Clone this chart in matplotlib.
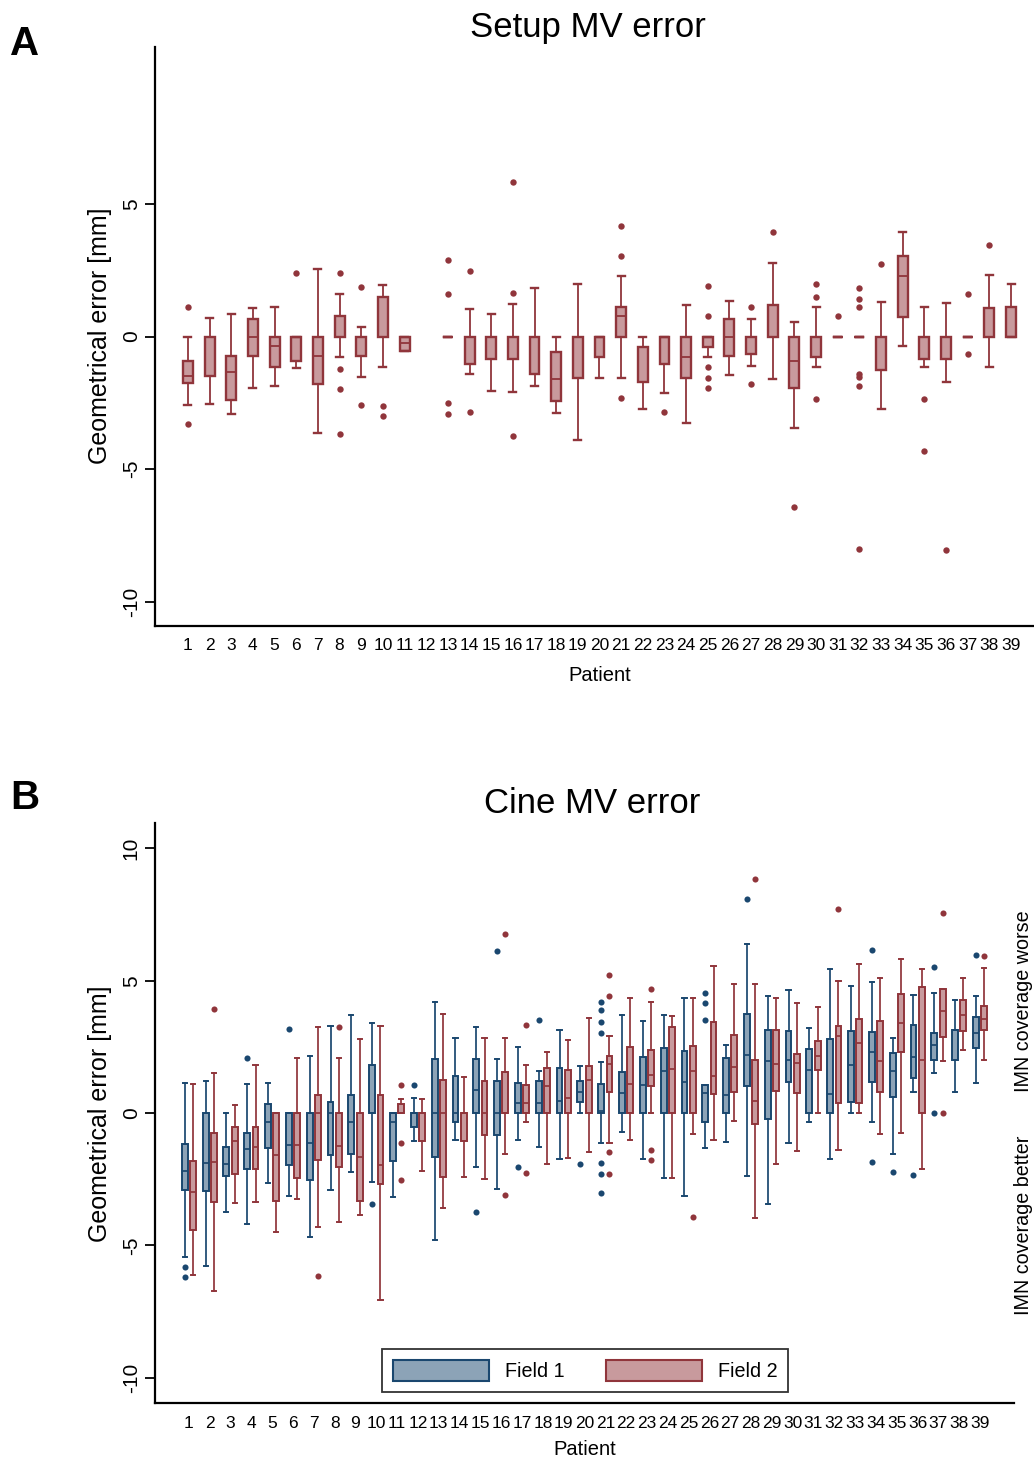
import matplotlib
matplotlib.use("Agg")
import matplotlib.pyplot as plt
from matplotlib.patches import Patch

plt.rcParams['font.family'] = ['Liberation Sans', 'DejaVu Sans']
plt.rcParams['axes.unicode_minus'] = False

W, H = 1034, 1459

# ---------------- Panel A: Setup MV error (patients 1..39, none for 12) ----------------
patients = list(range(1, 40))
a_whislo = [-2.57, -2.56, -2.91, -1.95, -1.86, -1.20, -3.64, -0.78, -1.51, -1.15,
            -0.55, None, 0.0, -1.42, -2.05, -2.08, -1.85, -2.90, -3.89, -1.57,
            -1.57, -2.72, -2.14, -3.27, -0.78, -1.46, -1.12, -1.59, -3.45, -1.15,
            0.0, 0.0, -2.73, -0.37, -1.15, -1.70, 0.0, -1.15, 0.0]
a_q1 = [-1.76, -1.49, -2.39, -0.72, -1.15, -0.92, -1.78, 0.0, -0.72, 0.0,
        -0.55, None, 0.0, -1.05, -0.84, -0.84, -1.41, -2.43, -1.56, -0.77,
        0.0, -1.73, -1.03, -1.56, -0.38, -0.72, -0.65, 0.0, -1.93, -0.77,
        0.0, 0.0, -1.27, 0.73, -0.83, -0.84, 0.0, 0.0, 0.0]
a_med = [-1.50, 0.0, -1.35, 0.0, -0.37, 0.0, -0.72, 0.0, 0.0, 0.0,
         -0.25, None, 0.0, 0.0, 0.0, 0.0, 0.0, -1.59, 0.0, 0.0,
         0.79, -1.73, 0.0, -0.79, 0.0, 0.0, 0.0, 0.0, -0.93, 0.0,
         0.0, 0.0, 0.0, 2.29, 0.0, 0.0, 0.0, 0.0, 0.0]
a_q3 = [-0.94, 0.0, -0.74, 0.67, 0.0, 0.0, 0.0, 0.76, 0.0, 1.50,
        0.0, None, 0.0, 0.0, 0.0, 0.0, 0.0, -0.60, 0.0, 0.0,
        1.10, -0.40, 0.0, 0.0, 0.0, 0.67, 0.0, 1.18, 0.0, 0.0,
        0.0, 0.0, 0.0, 3.02, 0.0, 0.0, 0.0, 1.08, 1.10]
a_whishi = [0.0, 0.69, 0.83, 1.07, 1.13, 0.0, 2.56, 1.61, 0.35, 1.96,
            0.0, None, 0.0, 1.03, 0.84, 1.22, 1.84, 0.0, 1.98, 0.0,
            2.30, 0.0, 0.0, 1.20, 0.0, 1.35, 0.65, 2.77, 0.55, 1.12,
            0.0, 0.0, 1.30, 3.94, 1.11, 1.27, 0.0, 2.33, 1.98]
a_fliers = [[1.13, -3.29], [], [], [], [], [2.41], [], [2.39, -1.21, -1.99, -3.69], [1.85, -2.59], [-2.62, -2.98],
            [], [], [2.90, 1.60, -2.52, -2.92], [2.47, -2.85], [], [5.81, 1.65, -3.74], [], [], [], [],
            [4.16, 3.02, -2.33], [], [-2.83], [], [1.91, 0.78, -1.15, -1.57, -1.93], [], [1.11, -1.79], [3.95], [-6.44], [1.98, 1.49, -2.37],
            [0.78], [1.83, 1.40, 1.12, -1.41, -1.51, -1.85, -8.01], [2.73], [], [-2.34, -4.32], [-8.04], [1.61, -0.65], [3.46], []]

# ---------------- Panel B: Cine MV error, Field 1 and Field 2 ----------------
f1_whislo = [-5.46, -5.78, -3.73, -4.20, -2.63, -3.15, -4.70, -2.91, -2.22, -2.62,
             -3.19, -1.05, -4.80, -1.03, -2.03, -2.87, -1.03, -1.27, -1.75, 0.0,
             -1.12, -0.71, -1.75, -2.47, -3.13, -1.32, -1.11, -2.37, -3.43, -1.13,
             -0.34, -1.75, 0.0, -0.34, -1.54, 0.78, 1.50, 0.79, 1.15]
f1_q1 = [-2.91, -2.95, -2.37, -2.12, -1.32, -1.95, -2.55, -1.59, -1.55, 0.0,
         -1.81, -0.52, -1.68, -0.35, 0.0, -0.84, 0.0, 0.0, 0.0, 0.40,
         0.0, 0.0, 0.0, 0.0, 0.0, -0.34, 0.0, 1.02, -0.24, 1.17,
         0.0, 0.0, 0.40, 1.17, 0.59, 1.31, 2.02, 2.00, 2.46]
f1_med = [-2.18, -1.89, -1.94, -1.35, -0.34, -1.20, -1.13, 0.0, -0.34, 0.0,
          -0.34, 0.0, 0.0, 0.0, 0.87, 0.0, 0.38, 0.38, 0.44, 0.81,
          0.08, 0.77, 1.07, 1.59, 1.16, 0.74, 0.69, 2.21, 1.95, 1.99,
          1.63, 0.73, 1.80, 2.31, 1.58, 2.13, 2.56, 3.13, 3.01]
f1_q3 = [-1.16, 0.0, -1.27, -0.74, 0.34, 0.0, 0.0, 0.42, 0.69, 1.81,
         0.0, 0.0, 2.04, 1.40, 2.03, 1.21, 1.13, 1.22, 1.69, 1.20,
         1.11, 1.56, 2.10, 2.47, 2.34, 1.06, 2.09, 3.76, 3.15, 3.11,
         2.41, 2.81, 3.09, 3.06, 2.26, 3.34, 3.02, 3.13, 3.63]
f1_whishi = [1.15, 1.22, 0.0, 1.10, 1.15, 0.0, 2.15, 3.30, 3.72, 3.39,
             0.0, 0.55, 4.21, 2.84, 3.26, 2.03, 2.48, 1.60, 3.13, 1.79,
             1.93, 3.72, 3.48, 3.69, 4.36, 1.06, 2.57, 6.40, 4.41, 4.64,
             3.21, 5.46, 4.79, 4.94, 2.82, 4.47, 4.54, 4.26, 4.42]
f1_fliers = [[-5.82, -6.18], [], [], [2.09], [], [3.19], [], [], [], [-3.45],
             [], [1.07], [], [], [-3.73], [6.14], [-2.04], [3.53], [], [-1.92],
             [4.18, 3.88, 3.45, 3.04, -1.89, -2.32, -3.02], [], [], [], [], [4.52, 4.16, 3.53], [], [8.07], [], [],
             [], [], [], [6.16, -1.85], [-2.24], [-2.33], [5.53, 0.0], [], [5.97]]

f2_whislo = [-6.11, -6.74, -3.39, -3.36, -4.51, -3.24, -4.32, -4.11, -3.84, -7.07,
             0.0, -2.21, -3.58, -2.42, -2.48, -1.55, -0.34, -1.94, -1.69, -1.49,
             -1.15, -1.02, 0.0, -2.47, -0.79, -1.01, -0.32, -3.97, -1.94, -1.42,
             0.0, -1.40, 0.0, -0.78, -0.77, -2.12, 1.95, 2.37, 2.02]
f2_q1 = [-4.42, -3.38, -2.31, -2.13, -3.33, -2.44, -1.78, -2.03, -3.33, -2.67,
         0.0, -1.05, -2.43, -1.06, -0.84, 0.0, 0.0, 0.0, 0.0, 0.0,
         0.81, 0.0, 1.02, 0.0, 0.0, 0.71, 0.78, -0.43, 0.83, 0.76,
         1.61, 0.38, 0.38, 0.81, 2.29, 0.0, 2.87, 3.09, 3.13]
f2_med = [-3.00, -1.84, -1.05, -1.27, -1.60, -1.20, 0.0, -1.25, -1.65, -1.95,
          0.0, 0.0, 0.0, 0.0, 0.0, 0.0, 0.38, 1.03, 0.58, 1.24,
          1.85, 1.11, 1.42, 1.65, 1.60, 1.40, 1.75, 0.47, 1.85, 1.90,
          2.17, 2.92, 2.66, 1.97, 3.40, 2.00, 3.87, 3.72, 3.57]
f2_q3 = [-1.81, -0.74, -0.52, -0.52, 0.0, 0.0, 0.69, 0.0, 0.0, 0.69,
         0.34, 0.0, 1.25, 0.0, 1.21, 1.55, 1.05, 1.69, 1.61, 1.76,
         2.17, 2.50, 2.39, 3.26, 2.55, 3.43, 2.96, 2.00, 3.15, 2.24,
         2.73, 3.28, 3.57, 3.49, 4.51, 4.76, 4.70, 4.27, 4.06]
f2_whishi = [1.10, 1.52, 0.30, 1.81, 0.0, 2.07, 3.26, 2.08, 2.80, 3.29,
             0.53, 0.53, 3.76, 1.37, 2.85, 2.82, 1.81, 2.29, 2.76, 3.58,
             2.92, 4.36, 4.21, 3.65, 4.34, 5.57, 4.89, 4.89, 4.36, 4.15,
             4.00, 4.99, 5.65, 5.12, 5.81, 5.44, 4.70, 5.09, 5.48]
f2_fliers = [[], [3.93], [], [], [], [], [-6.16], [3.26], [], [],
             [1.07, -1.13, -2.55], [], [], [], [], [6.77, -3.11], [3.31, -2.28], [], [], [],
             [5.20, 4.42, -1.49, -2.32], [], [4.70, -1.41, -1.78], [], [-3.94], [], [], [8.86], [], [],
             [], [7.70], [], [], [], [], [7.57, 0.0], [], [5.94]]

tick_labels = [str(p) for p in patients]

# ---------------- styling ----------------
NAVY = '#1A476F'
NAVY_FILL = '#8CA3B7'
MAROON = '#90353B'
MAROON_FILL = '#C89A9D'


def make_stats(lo, q1, med, q3, hi, fl):
    stats, pos = [], []
    for i in range(len(lo)):
        if lo[i] is None:
            continue
        stats.append(dict(whislo=lo[i], q1=q1[i], med=med[i], q3=q3[i],
                          whishi=hi[i], fliers=fl[i]))
        pos.append(patients[i])
    return stats, pos


def draw(ax, stats, pos, edge, fill, width, capw, lw_box, lw_wh, ms):
    ax.bxp(stats, positions=pos, widths=width, capwidths=capw,
           patch_artist=True, manage_ticks=False,
           boxprops=dict(facecolor=fill, edgecolor=edge, linewidth=lw_box),
           whiskerprops=dict(color=edge, linewidth=lw_wh),
           capprops=dict(color=edge, linewidth=lw_box),
           medianprops=dict(color=edge, linewidth=lw_wh),
           flierprops=dict(marker='o', markersize=ms, markerfacecolor=edge,
                           markeredgecolor=edge, markeredgewidth=0, linestyle='none'))


def style_axes(ax, yticks):
    for s in ['top', 'right']:
        ax.spines[s].set_visible(False)
    for s in ['left', 'bottom']:
        ax.spines[s].set_linewidth(1.6)
    ax.set_xticks(patients)
    ax.set_xticklabels(tick_labels)
    ax.set_yticks(yticks)
    ax.set_yticklabels([str(v) for v in yticks])
    ax.tick_params(axis='x', length=0, pad=9, labelsize=12.5)
    ax.tick_params(axis='y', length=7.2, width=1.3, pad=3, labelsize=15,
                   labelrotation=90)
    for lab in ax.get_yticklabels():
        lab.set_verticalalignment('center')


def fx(px):
    return px / W


def fy(py):
    return 1 - py / H


fig = plt.figure(figsize=(W / 100, H / 100), dpi=100)

# Panel A
axA = fig.add_axes([fx(155), fy(626), fx(1044) - fx(155), fy(47) - fy(626)])
sA, pA = make_stats(a_whislo, a_q1, a_med, a_q3, a_whishi, a_fliers)
draw(axA, sA, pA, MAROON, MAROON_FILL, 0.46, 0.32, 1.7, 1.3, 4.6)
axA.set_xlim(-0.52, 40.52)
axA.set_ylim(-10.92, 10.92)
style_axes(axA, [5, 0, -5, -10])

# Panel B
axB = fig.add_axes([fx(155), fy(1403), fx(1014) - fx(155), fy(823) - fy(1403)])
off = 0.2
s1, p1 = make_stats(f1_whislo, f1_q1, f1_med, f1_q3, f1_whishi, f1_fliers)
s2, p2 = make_stats(f2_whislo, f2_q1, f2_med, f2_q3, f2_whishi, f2_fliers)
draw(axB, s1, [p - off for p in p1], NAVY, NAVY_FILL, 0.28, 0.2, 1.4, 1.25, 4.4)
draw(axB, s2, [p + off for p in p2], MAROON, MAROON_FILL, 0.28, 0.2, 1.4, 1.25, 4.4)
axB.set_xlim(-0.63, 40.63)
axB.set_ylim(-10.96, 10.96)
style_axes(axB, [10, 5, 0, -5, -10])

# Titles, labels
fig.text(fx(588), fy(37), 'Setup MV error', fontsize=25, ha='center', va='baseline')
fig.text(fx(592), fy(813), 'Cine MV error', fontsize=25, ha='center', va='baseline')
fig.text(fx(10), fy(55), 'A', fontsize=29, fontweight='bold', ha='left', va='baseline')
fig.text(fx(10), fy(809), 'B', fontsize=29, fontweight='bold', ha='left', va='baseline')
fig.text(fx(600), fy(681), 'Patient', fontsize=14.5, ha='center', va='baseline')
fig.text(fx(585), fy(1455), 'Patient', fontsize=14.5, ha='center', va='baseline')
for cy in (336, 1114):
    fig.text(fx(107), fy(cy), 'Geometrical error [mm]', fontsize=18, rotation=90,
             rotation_mode='anchor', ha='center', va='baseline')

# Side annotations in panel B
fig.text(fx(1029), fy(1001), 'IMN coverage worse', fontsize=14.2, rotation=90,
         rotation_mode='anchor', ha='center', va='baseline')
fig.text(fx(1029), fy(1225), 'IMN coverage better', fontsize=14.2, rotation=90,
         rotation_mode='anchor', ha='center', va='baseline')

# Legend
handles = [Patch(facecolor=NAVY_FILL, edgecolor=NAVY, linewidth=1.5, label='Field 1'),
           Patch(facecolor=MAROON_FILL, edgecolor=MAROON, linewidth=1.5, label='Field 2')]
leg = fig.legend(handles=handles, loc='lower center', ncol=2,
                 bbox_to_anchor=(fx(585), fy(1392)), bbox_transform=fig.transFigure,
                 fontsize=14.2, frameon=True, fancybox=False, edgecolor='black',
                 handlelength=4.9, handleheight=1.24, handletextpad=0.77,
                 columnspacing=2.1, borderpad=0.55, borderaxespad=0)
leg.get_frame().set_linewidth(1.3)

fig.savefig('out.png', dpi=100)
